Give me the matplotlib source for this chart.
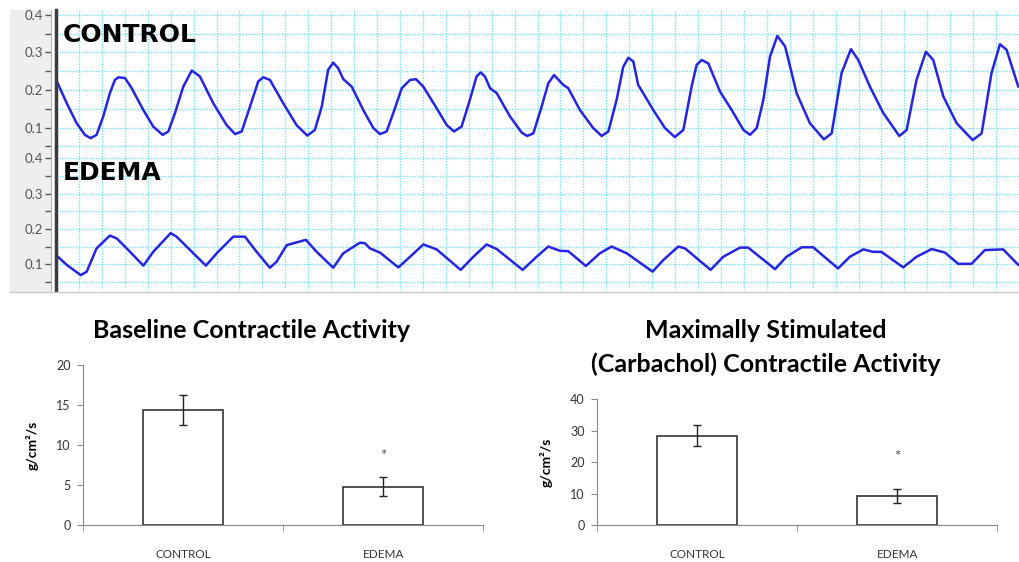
import numpy as np
import matplotlib.pyplot as plt
from matplotlib.patches import Rectangle
from matplotlib.lines import Line2D

W, H = 1019, 562

# contraction traces (time in s, one grid square = 1 s; force in g)
control_trace = [
    (0.00, 0.228), (0.47, 0.165), (0.90, 0.112), (1.26, 0.081), (1.51, 0.072), (1.77, 0.081),
    (2.06, 0.130), (2.35, 0.192), (2.57, 0.227), (2.72, 0.234), (3.01, 0.232), (3.30, 0.205),
    (3.81, 0.147), (4.24, 0.103), (4.65, 0.081), (4.90, 0.090), (5.19, 0.139), (5.55, 0.209),
    (5.92, 0.252), (6.28, 0.236), (6.86, 0.165), (7.44, 0.107), (7.81, 0.083), (8.10, 0.090),
    (8.46, 0.156), (8.82, 0.223), (9.04, 0.234), (9.33, 0.227), (9.91, 0.165), (10.49, 0.107),
    (10.96, 0.079), (11.29, 0.094), (11.59, 0.156), (11.87, 0.254), (12.09, 0.273), (12.31, 0.258),
    (12.53, 0.229), (12.90, 0.209), (13.40, 0.147), (13.84, 0.099), (14.13, 0.083), (14.42, 0.090),
    (14.71, 0.139), (15.08, 0.205), (15.44, 0.227), (15.70, 0.229), (16.02, 0.209), (16.60, 0.152),
    (17.04, 0.107), (17.36, 0.090), (17.69, 0.103), (18.05, 0.174), (18.34, 0.236), (18.52, 0.247),
    (18.71, 0.236), (18.93, 0.205), (19.22, 0.192), (19.80, 0.130), (20.31, 0.087), (20.55, 0.078),
    (20.82, 0.085), (21.18, 0.156), (21.47, 0.218), (21.72, 0.240), (22.12, 0.214), (22.34, 0.205),
    (22.85, 0.147), (23.43, 0.099), (23.80, 0.078), (24.09, 0.090), (24.45, 0.174), (24.74, 0.262),
    (24.96, 0.286), (25.18, 0.276), (25.39, 0.214), (26.05, 0.147), (26.56, 0.099), (26.99, 0.075),
    (27.36, 0.094), (27.72, 0.209), (27.94, 0.267), (28.16, 0.280), (28.45, 0.271), (28.96, 0.196),
    (29.47, 0.147), (29.98, 0.094), (30.27, 0.081), (30.56, 0.099), (30.85, 0.174), (31.14, 0.289),
    (31.46, 0.344), (31.80, 0.316), (32.30, 0.192), (32.88, 0.112), (33.49, 0.069), (33.83, 0.085),
    (34.26, 0.245), (34.67, 0.309), (34.99, 0.280), (35.50, 0.209), (36.08, 0.139), (36.78, 0.078),
    (37.10, 0.094), (37.53, 0.227), (37.94, 0.302), (38.26, 0.280), (38.70, 0.183), (39.28, 0.112),
    (39.98, 0.067), (40.37, 0.085), (40.80, 0.245), (41.17, 0.322), (41.46, 0.307), (41.97, 0.209),
]
edema_trace = [
    (0.00, 0.126), (0.47, 0.098), (1.08, 0.069), (1.34, 0.079), (1.77, 0.145), (2.35, 0.181),
    (2.65, 0.173), (3.23, 0.135), (3.81, 0.096), (4.24, 0.135), (5.00, 0.188), (5.26, 0.178),
    (5.99, 0.131), (6.54, 0.096), (7.01, 0.131), (7.73, 0.178), (8.24, 0.178), (8.75, 0.135),
    (9.33, 0.090), (9.62, 0.107), (10.06, 0.154), (10.90, 0.169), (11.37, 0.135), (12.09, 0.090),
    (12.53, 0.131), (13.26, 0.161), (13.48, 0.159), (13.69, 0.145), (14.13, 0.133), (14.93, 0.091),
    (15.44, 0.121), (16.02, 0.156), (16.60, 0.142), (17.65, 0.084), (18.20, 0.121), (18.78, 0.156),
    (19.22, 0.143), (20.35, 0.084), (20.96, 0.121), (21.47, 0.150), (21.98, 0.138), (22.34, 0.137),
    (23.11, 0.095), (23.72, 0.131), (24.23, 0.150), (24.89, 0.131), (26.02, 0.079), (26.49, 0.112),
    (27.14, 0.150), (27.43, 0.145), (28.55, 0.084), (29.10, 0.121), (29.83, 0.147), (30.19, 0.147),
    (31.36, 0.086), (31.86, 0.121), (32.52, 0.148), (33.02, 0.148), (34.11, 0.088), (34.62, 0.121),
    (35.21, 0.142), (35.64, 0.135), (36.00, 0.135), (36.95, 0.091), (37.53, 0.121), (38.19, 0.143),
    (38.77, 0.133), (39.35, 0.101), (39.93, 0.101), (40.51, 0.140), (41.31, 0.142), (41.97, 0.098),
]

trace_major = [0.1, 0.2, 0.3, 0.4]
trace_minor = [0.05, 0.15, 0.25, 0.35]

# bar charts
groups = ['CONTROL', 'EDEMA']
baseline_mean = [14.4, 4.8]
baseline_err = [1.85, 1.2]
carbachol_mean = [28.4, 9.3]
carbachol_err = [3.3, 2.35]

plt.rcParams['font.family'] = ['Lato', 'DejaVu Sans']


def px_box(x0, y0, x1, y1):
    # pixel box (top-left origin) -> figure fraction rect
    return [x0 / W, 1 - y1 / H, (x1 - x0) / W, (y1 - y0) / H]


fig = plt.figure(figsize=(W / 100, H / 100), dpi=100)

# grey strip behind the trace tick labels
fig.patches.append(Rectangle((10 / W, 1 - 292 / H), 41 / W, 282 / H, transform=fig.transFigure,
                             facecolor='#eeeeee', edgecolor='none', zorder=-1))
fig.lines.append(Line2D([10 / W, 1], [1 - 292 / H, 1 - 292 / H], transform=fig.transFigure,
                        color='#c8c8c8', lw=1))


def trace_panel(rect, data, ylim, name, name_y):
    ax = fig.add_axes(rect)
    t, v = zip(*data)
    ax.plot(t, v, color='#2424e4', lw=1.8, solid_joinstyle='round', solid_capstyle='round', zorder=3)
    ax.set_xlim(0, 42)
    ax.set_ylim(*ylim)
    ax.set_xticks(np.arange(0, 43))
    ax.set_yticks(trace_major)
    ax.set_yticks(trace_minor, minor=True)
    ax.grid(True, which='both', color='#70e4f2', ls=(0, (1, 1)), lw=1)
    ax.tick_params(axis='x', length=0, labelbottom=False)
    ax.tick_params(axis='y', which='both', direction='out', length=4, width=1, color='#555555',
                   labelsize=9.5, labelcolor='#555555', pad=2)
    for lab in ax.get_yticklabels():
        lab.set_fontfamily('DejaVu Sans')
        lab.set_fontweight('bold')
    for s in ['top', 'right', 'bottom']:
        ax.spines[s].set_visible(False)
    ax.spines['left'].set_position(('outward', 3.5))
    ax.spines['left'].set_color('#b8b8b8')
    ax.axvline(0, color='#3a3a3a', lw=2.5, clip_on=False, zorder=4)
    fig.text(63 / W, 1 - name_y / H, name, fontsize=18, fontweight='bold',
             family='DejaVu Sans', va='center', ha='left')
    return ax


trace_panel(px_box(56, 10, 1019, 148), control_trace, (0.046, 0.413), 'CONTROL', 35)
trace_panel(px_box(56, 148, 1019, 290), edema_trace, (0.027, 0.429), 'EDEMA', 172.5)


def bar_chart(rect, means, errs, ymax, ystep, star_y):
    ax = fig.add_axes(rect)
    x = np.arange(len(groups)) + 0.5
    ax.bar(x, means, width=0.4, color='white', edgecolor='#333333', lw=1.2, zorder=2)
    ax.errorbar(x, means, yerr=errs, fmt='none', ecolor='#222222', elinewidth=1,
                capsize=3, capthick=1, zorder=3)
    ax.text(x[1], star_y, '*', ha='center', va='center', fontsize=11, color='#555555')
    ax.set_xlim(0, 2)
    ax.set_ylim(0, ymax)
    ax.set_yticks(np.arange(0, ymax + 1, ystep))
    ax.set_xticks(x)
    ax.set_xticklabels(groups)
    ax.set_xticks([0, 1, 2], minor=True)
    ax.tick_params(axis='x', which='major', length=0, pad=17, labelsize=8.5, labelcolor='#333333')
    ax.tick_params(axis='x', which='minor', length=4, direction='out', color='#888888')
    ax.tick_params(axis='y', length=4, color='#888888', labelsize=9, labelcolor='#333333', pad=5)
    for s in ['top', 'right']:
        ax.spines[s].set_visible(False)
    for s in ['left', 'bottom']:
        ax.spines[s].set_color('#888888')
    ax.set_ylabel('g/cm²/s', fontsize=10, fontweight='bold')
    ax.yaxis.set_label_coords(-0.112, 0.5)
    return ax


bar_chart(px_box(83.3, 365.3, 483.3, 525.3), baseline_mean, baseline_err, 20, 5, 8.7)
bar_chart(px_box(597.3, 399.3, 997.3, 525.3), carbachol_mean, carbachol_err, 40, 10, 21.6)

fig.text(252 / W, 1 - 330 / H, 'Baseline Contractile Activity', fontsize=18, fontweight='bold',
         ha='center', va='center')
fig.text(766 / W, 1 - 330 / H, 'Maximally Stimulated', fontsize=18, fontweight='bold',
         ha='center', va='center')
fig.text(766 / W, 1 - 364 / H, '(Carbachol) Contractile Activity', fontsize=18, fontweight='bold',
         ha='center', va='center')

fig.savefig('out.png', dpi=100, facecolor='white')
